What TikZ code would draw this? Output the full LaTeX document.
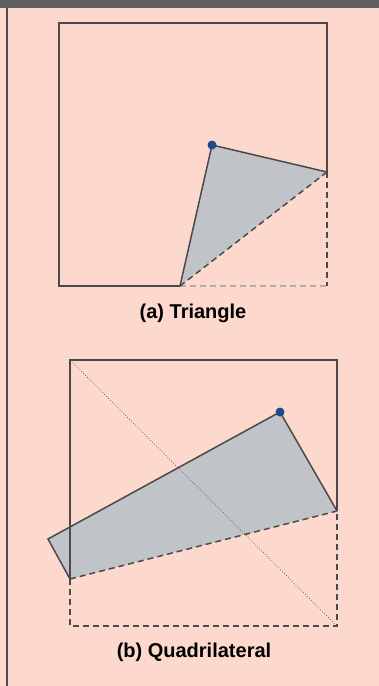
\documentclass[tikz,border=0pt]{standalone}
\usepackage{fontspec}
\setmainfont{Liberation Sans}
\usepackage{xcolor}
\usepackage{tikz}
\usetikzlibrary{positioning,calc}
\definecolor{rosa}{HTML}{FDD9CD}
\definecolor{banda}{HTML}{5F5F5F}
\definecolor{borde}{HTML}{4A4A4A}
\definecolor{relleno}{HTML}{C0C4C8}
\definecolor{azul}{HTML}{1F4A8C}
\definecolor{grisclaro}{HTML}{B4ACAA}
\tikzset{
  marco/.style={draw=borde,line width=1.5pt,line join=miter},
  borrado/.style={draw=borde,line width=1.5pt,dash pattern=on 6pt off 4pt},
  borradoclaro/.style={borrado,draw=grisclaro},
  diagonal/.style={draw=borde,line width=0.7pt,dotted},
  figura/.style={fill=relleno},
  vertice/.style={circle,fill=azul,inner sep=0pt,minimum size=9pt},
  titulo/.style={font=\bfseries\fontsize{20}{24}\selectfont,text=black,inner sep=0pt},
}
\begin{document}
\begin{tikzpicture}[x=1pt,y=-1pt]
  % fondo
  \fill[rosa] (0,0) rectangle (379,686);
  \useasboundingbox (0,0) rectangle (379,686);
  \fill[banda] (0,0) rectangle (379,8);
  \draw[banda!80!black,line width=2pt] (6.5,8) -- (6.5,686);

  % (a) triangulo
  \coordinate (tl) at (59,23);
  \coordinate (tr) at (327,23);
  \coordinate (bl) at (59,286);
  \coordinate (br) at (327,286);
  \coordinate (tp) at (212,145);
  \coordinate (trr) at (327,172);
  \coordinate (tb) at (180,286);
  \fill[figura] (tb) -- (tp) -- (trr) -- cycle;
  \draw[marco] (trr) -- (tr) -- (tl) -- (bl) -- (tb);
  \draw[borrado] (trr) -- (br);
  \draw[borradoclaro] (tb) -- (br);
  \draw[marco] (tb) -- (tp) -- (trr);
  \draw[borrado] (tb) -- (trr);
  \node[vertice] (pa) at (tp) {};
  \node[titulo] (capa) at (193,313) {(a) Triangle};

  % (b) cuadrilatero
  \coordinate (qtl) at (70,360);
  \coordinate (qtr) at (337,360);
  \coordinate (qbl) at (70,626);
  \coordinate (qbr) at (337,626);
  \coordinate (qp) at (280,412);
  \coordinate (qr) at (337,511);
  \coordinate (qc) at (70,579);
  \coordinate (ql) at (48,539);
  \fill[figura] (qc) -- (ql) -- (qp) -- (qr) -- cycle;
  \draw[marco] (qr) -- (qtr) -- (qtl) -- (qc);
  \draw[borrado] (qc) -- (qbl) -- (qbr) -- (qr);
  \draw[diagonal] (qtl) -- (qbr);
  \draw[marco] (qr) -- (qp) -- (ql) -- (qc);
  \draw[borrado] (qc) -- (qr);
  \node[vertice] (pb) at (qp) {};
  \node[titulo] (capb) at (194,652) {(b) Quadrilateral};
\end{tikzpicture}
\end{document}
